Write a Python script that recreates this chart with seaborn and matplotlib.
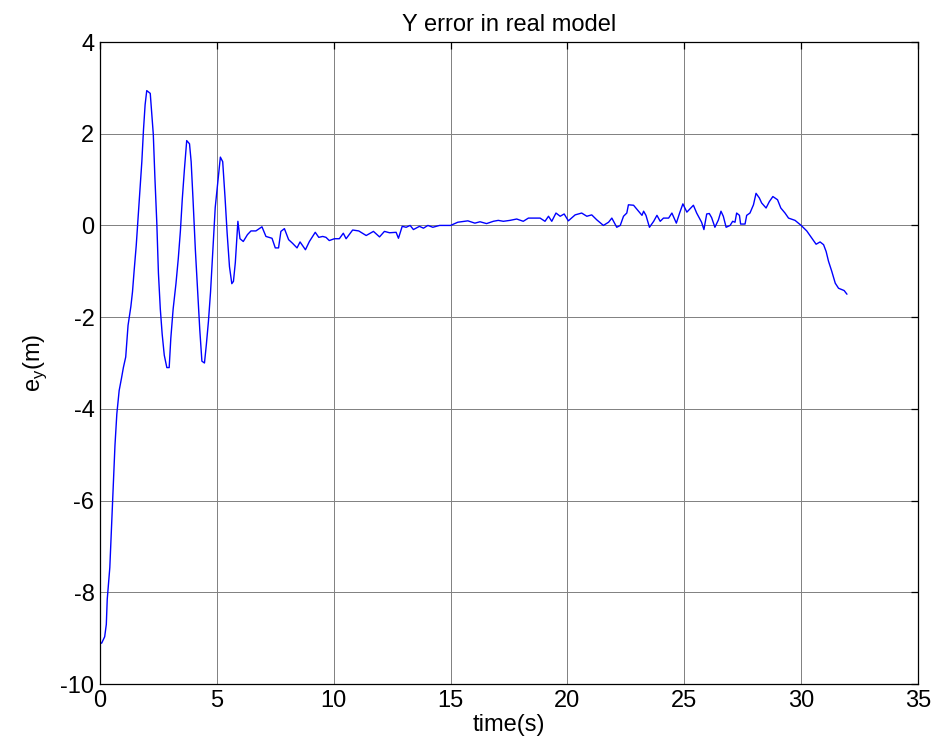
import matplotlib
matplotlib.use("Agg")
import matplotlib.pyplot as plt
import seaborn as sns
import pandas as pd

time_s = [0.0, 0.07, 0.2, 0.27, 0.31, 0.42, 0.49, 0.57, 0.64, 0.72, 0.82, 0.92, 1.0, 1.1, 1.2, 1.32,
          1.39, 1.46, 1.55, 1.63, 1.72, 1.79, 1.86, 1.93, 2.0, 2.15, 2.2, 2.28, 2.35, 2.43, 2.5,
          2.58, 2.66, 2.75, 2.86, 2.96, 3.03, 3.13, 3.25, 3.35, 3.44, 3.52, 3.61, 3.71, 3.83,
          3.9, 3.98, 4.08, 4.18, 4.27, 4.36, 4.47, 4.55, 4.64, 4.73, 4.83, 4.93, 5.04, 5.15,
          5.25, 5.35, 5.44, 5.54, 5.64, 5.71, 5.79, 5.86, 5.9, 5.99, 6.13, 6.31, 6.46, 6.67,
          6.93, 7.1, 7.36, 7.5, 7.64, 7.74, 7.89, 8.07, 8.24, 8.43, 8.56, 8.79, 8.96, 9.21,
          9.36, 9.53, 9.67, 9.81, 10.03, 10.24, 10.41, 10.53, 10.81, 11.07, 11.39, 11.7, 11.96,
          12.17, 12.39, 12.67, 12.77, 12.93, 13.1, 13.27, 13.41, 13.67, 13.84, 14.03, 14.24,
          14.53, 15.0, 15.31, 15.74, 16.04, 16.26, 16.54, 16.83, 17.04, 17.26, 17.54, 17.83,
          18.11, 18.33, 18.83, 19.04, 19.19, 19.33, 19.51, 19.69, 19.86, 20.04, 20.33, 20.61,
          20.83, 21.04, 21.26, 21.54, 21.76, 21.9, 22.11, 22.26, 22.4, 22.54, 22.61, 22.83,
          23.04, 23.19, 23.26, 23.36, 23.51, 23.69, 23.83, 23.97, 24.11, 24.33, 24.47, 24.66,
          24.8, 24.94, 25.11, 25.39, 25.53, 25.74, 25.84, 25.96, 26.07, 26.17, 26.31, 26.46,
          26.57, 26.67, 26.79, 26.96, 27.07, 27.17, 27.24, 27.36, 27.41, 27.6, 27.67, 27.81,
          27.96, 28.07, 28.21, 28.31, 28.5, 28.64, 28.79, 28.99, 29.13, 29.31, 29.46, 29.74,
          30.0, 30.24, 30.46, 30.64, 30.81, 30.96, 31.07, 31.17, 31.31, 31.46, 31.6, 31.74,
          31.84, 31.96]
error_y = [-9.1, -9.11, -8.97, -8.7, -8.15, -7.46, -6.63, -5.67, -4.8, -4.11, -3.6, -3.33, -3.1,
           -2.87, -2.18, -1.77, -1.45, -0.99, -0.44, 0.16, 0.8, 1.39, 2.08, 2.63, 2.94, 2.88,
           2.54, 1.99, 1.03, 0.06, -1.04, -1.82, -2.37, -2.83, -3.1, -3.1, -2.46, -1.82, -1.27,
           -0.72, -0.12, 0.57, 1.21, 1.85, 1.78, 1.39, 0.57, -0.53, -1.45, -2.28, -2.96, -3.0,
           -2.6, -2.09, -1.45, -0.53, 0.39, 0.94, 1.49, 1.39, 0.61, -0.17, -0.9, -1.27, -1.22,
           -0.81, -0.26, 0.09, -0.29, -0.35, -0.2, -0.12, -0.12, -0.03, -0.24, -0.28, -0.49,
           -0.49, -0.13, -0.07, -0.31, -0.39, -0.49, -0.36, -0.53, -0.35, -0.15, -0.26, -0.24,
           -0.26, -0.33, -0.29, -0.29, -0.17, -0.29, -0.1, -0.12, -0.22, -0.13, -0.25, -0.13,
           -0.16, -0.15, -0.28, -0.02, -0.04, 0.0, -0.09, -0.02, -0.06, 0.0, -0.04, 0.0, 0.0,
           0.07, 0.1, 0.05, 0.08, 0.04, 0.09, 0.11, 0.09, 0.11, 0.14, 0.09, 0.16, 0.16, 0.09,
           0.2, 0.09, 0.27, 0.2, 0.25, 0.1, 0.23, 0.27, 0.2, 0.23, 0.12, 0.0, 0.07, 0.16, -0.04,
           0.0, 0.2, 0.27, 0.45, 0.44, 0.31, 0.22, 0.31, 0.22, -0.04, 0.09, 0.22, 0.09, 0.16,
           0.16, 0.27, 0.05, 0.27, 0.47, 0.29, 0.44, 0.27, 0.07, -0.09, 0.25, 0.26, 0.17, -0.04,
           0.12, 0.31, 0.2, -0.04, 0.0, 0.09, 0.07, 0.27, 0.22, 0.03, 0.03, 0.22, 0.27, 0.45,
           0.7, 0.6, 0.49, 0.38, 0.52, 0.63, 0.56, 0.38, 0.27, 0.16, 0.11, 0.0, -0.12, -0.28,
           -0.41, -0.36, -0.42, -0.57, -0.78, -1.0, -1.26, -1.37, -1.4, -1.42, -1.5]

x_ticks = [0, 5, 10, 15, 20, 25, 30, 35]
y_ticks = [-10, -8, -6, -4, -2, 0, 2, 4]

df = pd.DataFrame({"time": time_s, "ey": error_y})

sns.set_theme(style="white")
plt.rcParams["font.family"] = ["Liberation Sans", "DejaVu Sans"]
plt.rcParams["text.color"] = "black"
plt.rcParams["axes.labelcolor"] = "black"

fig = plt.figure(figsize=(9.35, 7.55), dpi=100)
ax = fig.add_axes([100 / 935, 1 - 684 / 755, 818 / 935, 642 / 755])

sns.lineplot(data=df, x="time", y="ey", ax=ax, color="#0000ff", linewidth=1.0,
             estimator=None, sort=False)

ax.set_xlim(0, 35)
ax.set_ylim(-10, 4)
ax.set_xticks(x_ticks)
ax.set_yticks(y_ticks)
ax.set_xticklabels([str(v) for v in x_ticks], fontsize=17)
ax.set_yticklabels([str(v) for v in y_ticks], fontsize=17)
ax.grid(True, color="#808080", linewidth=0.7, linestyle="-")
ax.set_axisbelow(True)
for s in ax.spines.values():
    s.set_visible(True)
    s.set_color("black")
    s.set_linewidth(0.9)
ax.tick_params(direction="in", length=5, width=0.9, top=True, right=True,
               colors="black", labelcolor="black", pad=4)
ax.set_title("Y error in real model", fontsize=17, pad=8, color="black")
ax.set_xlabel("time(s)", fontsize=17, labelpad=2, color="black")
ax.set_ylabel("e$_\\mathregular{y}$(m)", fontsize=17, labelpad=8, color="black")

fig.savefig("out.png", dpi=100, facecolor="white")
